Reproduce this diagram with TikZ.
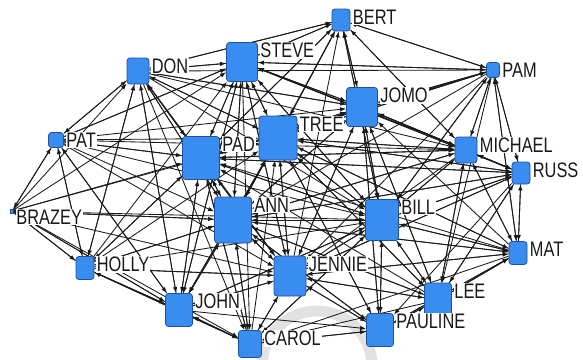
\documentclass[tikz,border=0pt]{standalone}
\usepackage{fontspec}
\setmainfont[FakeStretch=0.78]{Liberation Sans}
\usetikzlibrary{arrows.meta,backgrounds}
\definecolor{actorblue}{RGB}{58,141,240}
\definecolor{actorline}{RGB}{30,80,155}
\definecolor{markgrey}{RGB}{226,226,226}

\begin{document}
\begin{tikzpicture}[x=1pt,y=-1pt]
\tikzstyle{actor}=[draw=actorline, fill=actorblue, rounded corners=3, inner sep=0, line width=0.8]
\tikzstyle{tag}=[anchor=north west, fill=white, inner sep=0.8, xshift=1.5, text=black!90, font=\fontsize{21}{24}\selectfont]
\tikzstyle{tie}=[-{Latex[length=6,width=4.5]}, line width=0.85, black!90]
\useasboundingbox (0,0) rectangle (583,359);
% actors
\node[actor, minimum width=18, minimum height=22, label={[tag]north east:BERT}] (bert) at (341,20) {};
\node[actor, minimum width=13, minimum height=15, label={[tag]north east:PAM}] (pam) at (493,70) {};
\node[actor, minimum width=31, minimum height=39, label={[tag]north east:STEVE}] (steve) at (242,62) {};
\node[actor, minimum width=22, minimum height=26, label={[tag]north east:DON}] (don) at (138,71) {};
\node[actor, minimum width=31, minimum height=39, label={[tag]north east:JOMO}] (jomo) at (362,107) {};
\node[actor, minimum width=15, minimum height=15, label={[tag]north east:PAT}] (pat) at (56,140) {};
\node[actor, minimum width=37, minimum height=43, label={[tag]north east:PAD}] (pad) at (201,158) {};
\node[actor, minimum width=38, minimum height=44, label={[tag]north east:TREE}] (tree) at (278,138) {};
\node[actor, minimum width=22, minimum height=26, label={[tag]north east:MICHAEL}] (michael) at (466,150) {};
\node[actor, minimum width=18, minimum height=22, label={[tag]north east:RUSS}] (russ) at (521,173) {};
\node[actor, minimum width=37, minimum height=46, label={[tag]north east:ANN}] (ann) at (233,220) {};
\node[actor, minimum width=33, minimum height=41, label={[tag]north east:BILL}] (bill) at (382,220) {};
\node[actor, minimum width=3, minimum height=4, rounded corners=0, label={[tag]north east:BRAZEY}] (brazey) at (12,211) {};
\node[actor, minimum width=18, minimum height=23, label={[tag]north east:HOLLY}] (holly) at (85,268) {};
\node[actor, minimum width=32, minimum height=40, label={[tag]north east:JENNIE}] (jennie) at (290,276) {};
\node[actor, minimum width=18, minimum height=23, label={[tag]north east:MAT}] (mat) at (518,253) {};
\node[actor, minimum width=27, minimum height=33, label={[tag]north east:JOHN}] (john) at (179,310) {};
\node[actor, minimum width=27, minimum height=34, label={[tag]north east:LEE}] (lee) at (438,300) {};
\node[actor, minimum width=23, minimum height=27, label={[tag]north east:CAROL}] (carol) at (250,344) {};
\node[actor, minimum width=27, minimum height=33, label={[tag]north east:PAULINE}] (pauline) at (380,330) {};
% ties
\begin{scope}[on background layer]
\draw[markgrey, line width=11] (317,366) ++(180:55) arc[start angle=180, end angle=360, radius=55];
\foreach \s/\t in {bert/pam, bert/steve, bert/jomo, bert/tree, bert/pad, bert/michael, bert/bill, bert/don,
  pam/bert, pam/steve, pam/jomo, pam/tree, pam/michael, pam/russ, pam/bill, pam/ann, pam/pad, pam/jennie, pam/lee, pam/mat, pam/don,
  steve/bert, steve/don, steve/jomo, steve/pam, steve/tree, steve/pad, steve/ann, steve/bill, steve/jennie, steve/john, steve/michael, steve/carol, steve/russ, steve/pat,
  don/steve, don/bert, don/jomo, don/tree, don/pad, don/ann, don/pat, don/jennie, don/bill, don/john, don/michael, don/holly, don/carol,
  jomo/bert, jomo/steve, jomo/tree, jomo/pam, jomo/michael, jomo/pad, jomo/ann, jomo/bill, jomo/jennie, jomo/russ, jomo/pauline, jomo/don, jomo/lee,
  pat/don, pat/steve, pat/pad, pat/tree, pat/jomo, pat/brazey, pat/holly, pat/ann, pat/jennie, pat/john, pat/bill, pat/michael,
  pad/steve, pad/bert, pad/don, pad/tree, pad/pat, pad/ann, pad/jennie, pad/john, pad/carol, pad/bill, pad/holly, pad/michael, pad/russ, pad/jomo, pad/pam,
  tree/bert, tree/steve, tree/jomo, tree/pad, tree/pam, tree/michael, tree/russ, tree/ann, tree/bill, tree/jennie, tree/pauline, tree/lee, tree/john, tree/don, tree/mat,
  michael/pam, michael/jomo, michael/russ, michael/tree, michael/bill, michael/lee, michael/mat, michael/pad, michael/ann, michael/jennie, michael/steve, michael/bert,
  russ/michael, russ/mat, russ/pam, russ/bill, russ/tree, russ/jomo, russ/ann, russ/jennie, russ/lee, russ/pad, russ/pauline,
  ann/pad, ann/tree, ann/steve, ann/bert, ann/jomo, ann/bill, ann/jennie, ann/john, ann/carol, ann/holly, ann/brazey, ann/pauline, ann/lee, ann/michael, ann/russ, ann/mat, ann/don,
  bill/jomo, bill/tree, bill/bert, bill/ann, bill/jennie, bill/lee, bill/pauline, bill/mat, bill/russ, bill/michael, bill/pam, bill/carol, bill/pad, bill/steve, bill/john,
  brazey/pat, brazey/don, brazey/holly, brazey/john, brazey/ann, brazey/jennie, brazey/bill, brazey/pad, brazey/steve, brazey/carol, brazey/tree,
  holly/pat, holly/brazey, holly/don, holly/pad, holly/ann, holly/john, holly/jennie, holly/carol, holly/bill, holly/tree, holly/steve,
  jennie/ann, jennie/bill, jennie/tree, jennie/pad, jennie/steve, jennie/jomo, jennie/bert, jennie/carol, jennie/pauline, jennie/lee, jennie/john, jennie/mat, jennie/russ, jennie/holly,
  mat/russ, mat/michael, mat/bill, mat/lee, mat/pauline, mat/jennie, mat/ann, mat/tree, mat/jomo, mat/pam, mat/carol, mat/pad,
  john/holly, john/brazey, john/pad, john/ann, john/carol, john/jennie, john/don, john/pat, john/bill, john/tree, john/steve, john/pauline,
  lee/bill, lee/mat, lee/pauline, lee/jennie, lee/michael, lee/russ, lee/tree, lee/jomo, lee/ann, lee/carol, lee/pad,
  carol/john, carol/ann, carol/jennie, carol/pauline, carol/pad, carol/holly, carol/bill, carol/tree,
  pauline/lee, pauline/bill, pauline/jennie, pauline/carol, pauline/ann, pauline/mat, pauline/tree, pauline/jomo}
  \draw[tie] (\s) -- (\t);
\end{scope}
\end{tikzpicture}
\end{document}
